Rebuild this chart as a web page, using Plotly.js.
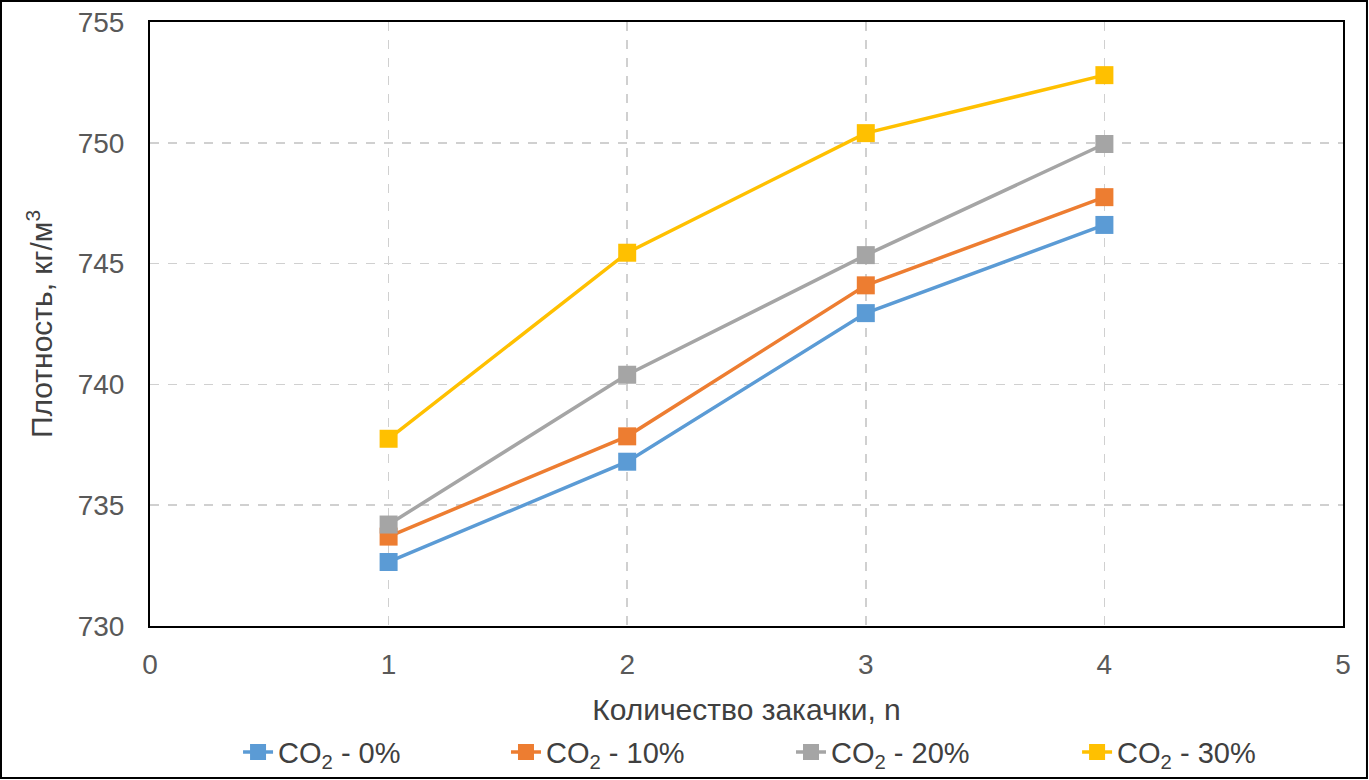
<!DOCTYPE html>
<html>
<head>
<meta charset="utf-8">
<script src="https://cdn.plot.ly/plotly-3.0.1.min.js"></script>
<style>
  html, body { margin: 0; padding: 0; background: #fff; }
  #chart { width: 1369px; height: 780px; }
</style>
</head>
<body>
<div id="chart"></div>
<script>
// injection count
let injections = [1, 2, 3, 4];

// density, kg/m3, per CO2 share
let co2_0 = [732.65, 736.8, 742.95, 746.6];
let co2_10 = [733.7, 737.85, 744.1, 747.75];
let co2_20 = [734.2, 740.4, 745.35, 749.95];
let co2_30 = [737.75, 745.45, 750.4, 752.8];

let seriesNames = ['CO<sub>2</sub> - 0%', 'CO<sub>2</sub> - 10%', 'CO<sub>2</sub> - 20%', 'CO<sub>2</sub> - 30%'];
let seriesColors = ['#5B9BD5', '#ED7D31', '#A5A5A5', '#FFC000'];
let seriesValues = [co2_0, co2_10, co2_20, co2_30];

// one legend per series so entries sit where the reference has them
let legendIds = ['legend', 'legend2', 'legend3', 'legend4'];
let legendX = [0.0738, 0.2984, 0.5373, 0.7771];

let plotData = [];
for(let i = 0; i < seriesValues.length; i++) {
    plotData.push({
        x: injections,
        y: seriesValues[i],
        name: seriesNames[i],
        legend: legendIds[i],
        type: 'scatter',
        mode: 'lines+markers',
        line: { color: seriesColors[i], width: 3.5 },
        marker: { color: seriesColors[i], symbol: 'square', size: 18 }
    });
}

let plotLayout = {
    width: 1369,
    height: 780,
    paper_bgcolor: '#ffffff',
    plot_bgcolor: '#ffffff',
    font: { family: '"Liberation Sans", Arial, sans-serif', size: 28, color: '#595959' },
    margin: { l: 150, r: 26, t: 22, b: 154, autoexpand: false },
    showlegend: true,
    xaxis: {
        range: [0, 5],
        dtick: 1,
        tick0: 0,
        showgrid: true,
        gridcolor: '#d0d0d0',
        griddash: 'dash',
        gridwidth: 1.5,
        zeroline: false,
        showline: true,
        linecolor: '#000000',
        linewidth: 2,
        mirror: true,
        ticks: '',
        ticklabelstandoff: 12,
        tickfont: { size: 28, color: '#595959' },
        title: {
            text: 'Количество закачки, n',
            font: { size: 30, color: '#404040' },
            standoff: 20
        }
    },
    yaxis: {
        range: [730, 755],
        dtick: 5,
        tick0: 730,
        showgrid: true,
        gridcolor: '#d0d0d0',
        griddash: 'dash',
        gridwidth: 1.5,
        zeroline: false,
        showline: true,
        linecolor: '#000000',
        linewidth: 2,
        mirror: true,
        ticks: '',
        ticklabelstandoff: 18,
        tickfont: { size: 28, color: '#595959' },
        title: {
            text: 'Плотность, кг/м<sup>3</sup>',
            font: { size: 30, color: '#404040' },
            standoff: 16
        }
    },
    shapes: [{
        type: 'rect',
        xref: 'paper',
        yref: 'paper',
        x0: -0.1249,
        x1: 1.0201,
        y0: -0.2517,
        y1: 1.0348,
        line: { color: '#000000', width: 2 },
        fillcolor: 'rgba(0,0,0,0)'
    }]
};

for(let i = 0; i < legendIds.length; i++) {
    plotLayout[legendIds[i]] = {
        orientation: 'h',
        x: legendX[i],
        xanchor: 'left',
        y: -0.209,
        yanchor: 'middle',
        bgcolor: 'rgba(0,0,0,0)',
        font: { size: 29, color: '#404040' }
    };
}

Plotly.newPlot('chart', plotData, plotLayout, { displayModeBar: false, staticPlot: true });
</script>
</body>
</html>
